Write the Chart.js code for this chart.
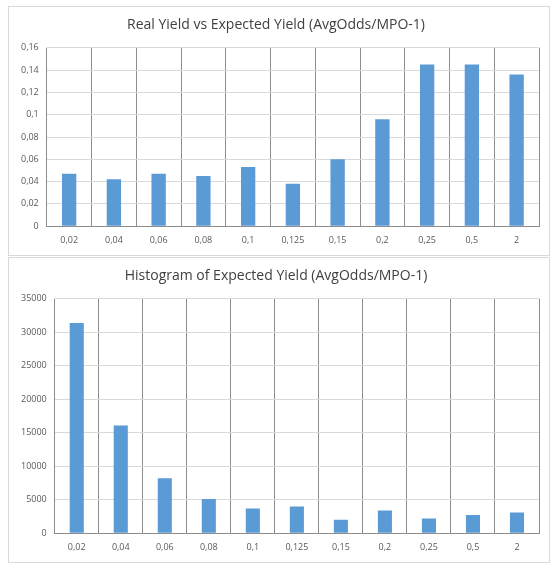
<!DOCTYPE html>
<html>
<head>
<script src="https://cdn.jsdelivr.net/npm/chart.js@4"></script>
<style>
  body { margin: 0; background: #fff; font-family: "Open Sans", sans-serif; }
  .panel { position: absolute; left: 8px; width: 540px; border: 1px solid #d9d9d9; background: #fff; }
</style>
</head>
<body>
<div class="panel" style="top:6px;height:248px"><canvas id="top"></canvas></div>
<div class="panel" style="top:257px;height:304px"><canvas id="bottom"></canvas></div>
<script>
const bins = ['0,02', '0,04', '0,06', '0,08', '0,1', '0,125', '0,15', '0,2', '0,25', '0,5', '2'];
const realYield = [0.047, 0.042, 0.047, 0.045, 0.053, 0.038, 0.060, 0.096, 0.145, 0.145, 0.136];
const counts = [31400, 16100, 8200, 5100, 3700, 4000, 2000, 3400, 2200, 2700, 3100];

Chart.defaults.font.family = '"Open Sans", sans-serif';
Chart.defaults.color = '#595959';

function makeChart(id, title, values, yMax, yStep, fmt) {
    return new Chart(document.getElementById(id), {
        type: 'bar',
        data: {
            labels: bins,
            datasets: [{
                data: values,
                backgroundColor: '#5b9bd5',
                barPercentage: 0.32,
                categoryPercentage: 1,
            }]
        },
        options: {
            responsive: true,
            maintainAspectRatio: false,
            animation: false,
            layout: { padding: { left: 4, right: 10, bottom: 0 } },
            plugins: {
                legend: { display: false },
                tooltip: { enabled: false },
                title: {
                    display: true,
                    text: title,
                    color: '#404040',
                    font: { size: 14, weight: 'normal' },
                    padding: { top: 10, bottom: 14 }
                }
            },
            scales: {
                x: {
                    grid: { offset: true, color: '#8c8c8c', drawTicks: false },
                    border: { color: '#8c8c8c' },
                    ticks: { font: { size: 9 }, padding: 9 }
                },
                y: {
                    min: 0,
                    max: yMax,
                    grid: { color: '#d9d9d9', drawTicks: false },
                    border: { display: false },
                    ticks: { stepSize: yStep, font: { size: 9 }, padding: 8, callback: fmt }
                }
            }
        }
    });
}

makeChart('top', 'Real Yield vs Expected Yield (AvgOdds/MPO-1)', realYield, 0.16, 0.02,
    v => String(Math.round(v * 100) / 100).replace('.', ','));
makeChart('bottom', 'Histogram of Expected Yield (AvgOdds/MPO-1)', counts, 35000, 5000,
    v => String(v));
</script>
</body>
</html>
